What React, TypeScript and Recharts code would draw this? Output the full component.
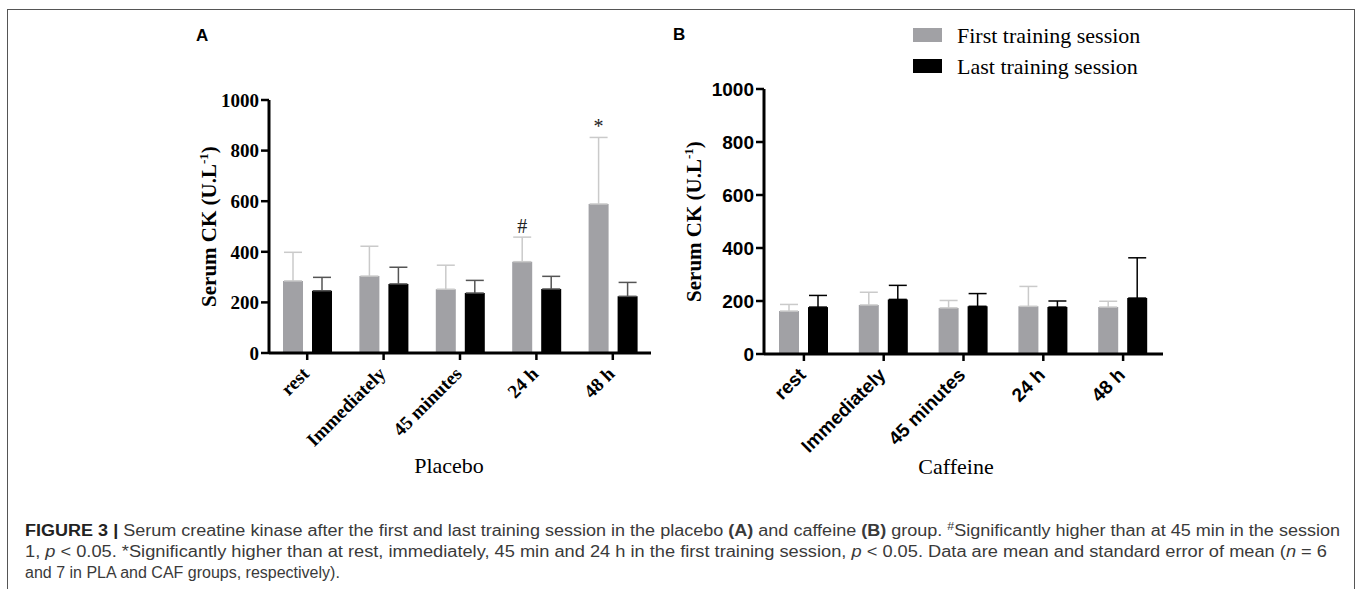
import React from 'react';
import { BarChart, Bar, XAxis, YAxis, ErrorBar, LabelList, Legend } from 'recharts';

// ---------- data ----------
const categories = ['rest', 'Immediately', '45 minutes', '24 h', '48 h'];
const yTicks = [0, 200, 400, 600, 800, 1000];
const seriesNames = ['First training session', 'Last training session'];

const placeboFirst = [285, 304, 252, 361, 589];
const placeboFirstSem = [113, 118, 95, 97, 263];
const placeboLast = [246, 273, 237, 253, 224];
const placeboLastSem = [53, 66, 50, 50, 55];
const placeboNotes = ['', '', '', '#', '*'];

const caffeineFirst = [162, 185, 174, 180, 177];
const caffeineFirstSem = [25, 48, 28, 75, 22];
const caffeineLast = [177, 206, 180, 177, 211];
const caffeineLastSem = [44, 53, 48, 23, 152];
const caffeineNotes = ['', '', '', '', ''];

const SERIF = "'Liberation Serif', 'Times New Roman', serif";
const SANS = "'Liberation Sans', Arial, sans-serif";
const GRAY = '#a1a1a5';

function buildRows(first: number[], firstSem: number[], last: number[], lastSem: number[], notes: string[]) {
  return categories.map((c, i) => ({
    name: c,
    first: first[i],
    firstErr: [0, firstSem[i]],
    last: last[i],
    lastErr: [0, lastSem[i]],
    note: notes[i],
  }));
}

const placeboRows = buildRows(placeboFirst, placeboFirstSem, placeboLast, placeboLastSem, placeboNotes);
const caffeineRows = buildRows(caffeineFirst, caffeineFirstSem, caffeineLast, caffeineLastSem, caffeineNotes);

const XTick = (props: any) => {
  const { x, y, payload, font } = props;
  return (
    <g transform={`translate(${x + 3},${y + 13})`}>
      <text transform="rotate(-45)" textAnchor="end" fontFamily={font} fontWeight="bold" fontSize={19} fill="#000">
        {payload.value}
      </text>
    </g>
  );
};

const makeYLabel = (off: number) => (props: any) => {
  const vb = props.viewBox || {};
  const bx = vb.x + off;
  const cy = vb.y + vb.height / 2;
  return (
    <text transform={`translate(${bx},${cy}) rotate(-90)`} textAnchor="middle" fontFamily={SERIF} fontWeight="bold" fontSize={21} fill="#000">
      Serum CK (U.L<tspan dy={-8} fontSize={13}>-1</tspan><tspan dy={8}>)</tspan>
    </text>
  );
};

const makeXLabel = (text: string, dx: number) => (props: any) => {
  const vb = props.viewBox || {};
  return (
    <text x={vb.x + vb.width / 2 + dx} y={vb.y + 120} textAnchor="middle" fontFamily={SERIF} fontSize={22} fill="#000">
      {text}
    </text>
  );
};

const makeNote = (means: number[], sems: number[]) => (props: any) => {
  const { x, y, width, height, value, index } = props;
  if (!value) return null;
  const errTop = y - (sems[index] * height) / means[index];
  return (
    <text x={x + width / 2} y={errTop - 4} textAnchor="middle" fontFamily={SERIF} fontSize={20} fill="#222">
      {value}
    </text>
  );
};

const renderLegend = (props: any) => {
  const payload = props.payload || [];
  return (
    <svg width={300} height={80} style={{ display: 'block', overflow: 'visible' }}>
      {payload.map((e: any, i: number) => (
        <g key={i}>
          <rect x={0} y={10 + i * 31} width={29} height={14} fill={e.color} />
          <text x={44} y={24.5 + i * 31} fontFamily={SERIF} fontSize={22} fill="#000">
            {e.value}
          </text>
        </g>
      ))}
    </svg>
  );
};

function Panel(props: any) {
  const { rows, means, sems, tickFont, lastErrColor, margin, width, height, yLabelOff, xLabel, xLabelDx, barSize, legend } = props;
  return (
    <BarChart width={width} height={height} data={rows} margin={margin} barSize={barSize} barGap={9}>
      <XAxis
        dataKey="name"
        axisLine={{ stroke: '#000', strokeWidth: 3 }}
        tickLine={{ stroke: '#000', strokeWidth: 2.5 }}
        tickSize={7}
        tickMargin={2}
        height={100}
        interval={0}
        tick={<XTick font={tickFont} />}
        label={makeXLabel(xLabel, xLabelDx)}
      />
      <YAxis
        domain={[0, 1000]}
        ticks={yTicks}
        width={60}
        axisLine={{ stroke: '#000', strokeWidth: 3 }}
        tickLine={{ stroke: '#000', strokeWidth: 2.5 }}
        tickSize={8}
        tickMargin={2}
        tick={{ fontFamily: tickFont, fontWeight: 'bold', fontSize: 19, fill: '#000' }}
        label={makeYLabel(yLabelOff)}
      />
      {legend ? (
        <Legend
          layout="vertical"
          align="center"
          verticalAlign="middle"
          content={renderLegend}
          wrapperStyle={legend}
        />
      ) : null}
      <Bar dataKey="first" name={seriesNames[0]} fill={GRAY} isAnimationActive={false}>
        <ErrorBar dataKey="firstErr" direction="y" width={9} strokeWidth={1.5} stroke="#cacaca" isAnimationActive={false} />
        <LabelList dataKey="note" content={makeNote(means, sems)} />
      </Bar>
      <Bar dataKey="last" name={seriesNames[1]} fill="#000" isAnimationActive={false}>
        <ErrorBar dataKey="lastErr" direction="y" width={9} strokeWidth={1.5} stroke={lastErrColor} isAnimationActive={false} />
      </Bar>
    </BarChart>
  );
}

export default function App() {
  return (
    <div style={{ position: 'absolute', left: 0, top: 0, width: 1357, height: 589, background: '#fff', overflow: 'hidden' }}>
      <div
        style={{
          position: 'absolute',
          left: 7,
          top: 9,
          width: 1348,
          height: 620,
          border: '1.5px solid #555',
          boxSizing: 'border-box',
        }}
      />
      <div style={{ position: 'absolute', left: 0, top: 0 }}>
        <Panel
          rows={placeboRows}
          means={placeboFirst}
          sems={placeboFirstSem}
          tickFont={SERIF}
          lastErrColor="#555"
          width={680}
          height={480}
          margin={{ top: 100, left: 209, right: 29, bottom: 27 }}
          yLabelOff={7}
          xLabel="Placebo"
          xLabelDx={-11}
          barSize={20}
        />
      </div>
      <div style={{ position: 'absolute', left: 680, top: 0 }}>
        <Panel
          rows={caffeineRows}
          means={caffeineFirst}
          sems={caffeineFirstSem}
          tickFont={SANS}
          lastErrColor="#000"
          width={520}
          height={480}
          margin={{ top: 89, left: 24, right: 37, bottom: 26 }}
          yLabelOff={-3}
          xLabel="Caffeine"
          xLabelDx={-7.5}
          barSize={20}
          legend={{ position: 'absolute', left: 233, top: 18, width: 300, height: 80 }}
        />
      </div>
      <svg width={1357} height={589} style={{ position: 'absolute', left: 0, top: 0, pointerEvents: 'none' }}>
        <text x={196} y={41} fontFamily={SANS} fontWeight="bold" fontSize={17} fill="#000">A</text>
        <text x={673} y={40} fontFamily={SANS} fontWeight="bold" fontSize={17} fill="#000">B</text>
        <g fontFamily={SANS} fontSize={16} fill="#3a3a3a">
          <text x={25} y={536} textLength={1315} lengthAdjust="spacingAndGlyphs">
            <tspan fontWeight="bold" fill="#222">FIGURE 3 | </tspan>
            Serum creatine kinase after the first and last training session in the placebo{' '}
            <tspan fontWeight="bold">(A)</tspan> and caffeine <tspan fontWeight="bold">(B)</tspan> group.{' '}
            <tspan fontSize={11} dy={-6}>#</tspan>
            <tspan dy={6}>Significantly higher than at 45 min in the session</tspan>
          </text>
          <text x={25} y={557} textLength={1302} lengthAdjust="spacingAndGlyphs">
            1, <tspan fontStyle="italic">p</tspan> &lt; 0.05. *Significantly higher than at rest, immediately, 45 min and 24 h in the first training session,{' '}
            <tspan fontStyle="italic">p</tspan> &lt; 0.05. Data are mean and standard error of mean (<tspan fontStyle="italic">n</tspan> = 6
          </text>
          <text x={25} y={578}>
            and 7 in PLA and CAF groups, respectively).
          </text>
        </g>
      </svg>
    </div>
  );
}
